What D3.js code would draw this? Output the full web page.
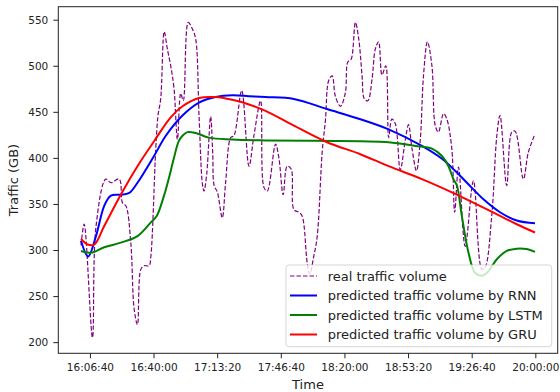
<!DOCTYPE html>
<html>
<head>
<meta charset="utf-8">
<script src="https://cdn.jsdelivr.net/npm/d3@7"></script>
<style>
body { margin: 0; background: #fff; }
svg { font-family: "DejaVu Sans", sans-serif; }
</style>
</head>
<body>
<script>
// Real traffic volume (GB)
var realTimes = ["16:02:00","16:03:40","16:08:00","16:09:50","16:15:00","16:17:40","16:22:00","16:23:45","16:25:30","16:28:05",
  "16:29:50","16:31:35","16:33:20","16:35:05","16:37:40","16:38:35","16:41:10","16:42:20","16:43:45","16:45:35",
  "16:47:15","16:49:00","16:50:45","16:52:30","16:54:15","16:55:35","16:58:10","17:00:20","17:02:05","17:03:50",
  "17:05:35","17:06:25","17:07:50","17:09:55","17:11:00","17:11:45","17:13:25","17:16:00","17:17:45","17:20:25",
  "17:22:05","17:26:10","17:30:00","17:32:35","17:36:05","17:37:50","17:39:35","17:43:55","17:45:40","17:47:55",
  "17:50:00","17:52:05","17:53:30","17:56:05","17:57:50","18:00:30","18:01:50","18:03:55","18:05:45","18:08:20",
  "18:10:05","18:11:45","18:13:35","18:15:15","18:17:55","18:20:30","18:21:45","18:23:30","18:25:45","18:27:30",
  "18:29:15","18:30:25","18:32:15","18:34:30","18:36:10","18:37:55","18:39:40","18:41:40","18:43:10","18:44:50",
  "18:46:40","18:49:15","18:51:55","18:53:35","18:55:25","18:57:45","18:59:45","19:01:25","19:03:30","19:05:50",
  "19:07:35","19:09:15","19:11:55","19:13:40","19:16:15","19:17:45","19:19:45","19:23:15","19:27:35","19:32:00",
  "19:33:40","19:37:10","19:39:50","19:41:30","19:45:00","19:47:40","19:49:25","19:53:45","19:56:20","19:59:50"];
var realValues = [305,328,205,325,377,373,377,351,348,308,
  236,219,279,283,283,293,410,446,464,537,
  518,500,475,420,470,462,547,540,529,446,
  372,364,382,445,405,370,363,335,373,422,
  424,473,391,424,462,368,364,415,400,360,
  391,388,344,341,337,286,274,293,315,406,
  442,484,489,467,456,471,504,507,547,529,
  489,464,462,486,518,526,490,500,422,442,
  437,387,420,436,410,386,420,489,526,500,
  435,428,448,442,410,341,390,304,375,279,
  281,337,424,446,370,428,429,377,406,426];

// Predicted by RNN
var rnnTimes = ["16:02:00","16:05:45","16:09:50","16:14:10","16:17:40","16:22:50","16:27:15","16:31:35","16:40:15","16:46:25",
  "16:55:10","17:03:50","17:12:30","17:21:15","17:30:00","17:38:40","17:53:30","18:10:55","18:28:20","18:43:10",
  "19:00:35","19:11:05","19:18:00","19:24:10","19:32:50","19:41:30","19:50:15","19:59:50"];
var rnnValues = [310,293,315,348,359,360,362,373,402,424,
  446,460,466,468,467,466,464,453,442,431,
  413,399,386,373,355,341,332,329];

// Predicted by LSTM
var lstmTimes = ["16:02:00","16:07:10","16:14:10","16:22:50","16:31:35","16:38:35","16:41:40","16:45:20","16:47:55","16:50:35",
  "16:53:10","16:55:10","16:57:45","17:02:05","17:09:00","17:21:15","17:38:40","18:28:20","18:43:10","18:57:05",
  "19:05:50","19:11:05","19:14:30","19:17:05","19:18:55","19:21:30","19:25:00","19:28:30","19:32:00","19:35:25",
  "19:39:50","19:45:00","19:50:15","19:55:30","19:59:50"];
var lstmValues = [299,297,303,308,315,330,337,358,377,399,
  418,424,428,427,422,420,419,418,417,413,
  410,402,391,377,370,337,297,275,272,277,
  290,299,301.5,301,298];

// Predicted by GRU
var gruTimes = ["16:02:00","16:05:30","16:09:00","16:14:10","16:22:50","16:31:35","16:40:15","16:49:00","16:55:10","17:03:50",
  "17:12:30","17:21:15","17:30:00","17:38:40","17:53:30","18:10:55","18:28:20","18:43:10","19:00:35","19:18:00",
  "19:32:50","19:41:30","19:50:15","19:59:50"];
var gruValues = [312,306,306,326,360,391,418,444,456,465,
  466,463,458,451,435,417,404,391,377,361,
  346,337,328,319];

var xTicks = ["16:06:40","16:40:00","17:13:20","17:46:40","18:20:00","18:53:20","19:26:40","20:00:00"];
var yTicks = [200, 250, 300, 350, 400, 450, 500, 550];
var legendLabels = ["real traffic volume", "predicted traffic volume by RNN",
  "predicted traffic volume by LSTM", "predicted traffic volume by GRU"];

function secs(s) {
    var p = s.split(":").map(Number);
    return p[0] * 3600 + p[1] * 60 + p[2];
}
function pad(n) { return (n < 10 ? "0" : "") + n; }
function hms(t) {
    return Math.floor(t / 3600) + ":" + pad(Math.floor(t % 3600 / 60)) + ":" + pad(t % 60);
}
function pairs(times, values) {
    return times.map(function(t, i) { return [secs(t), values[i]]; });
}

var width = 560, height = 392;
var margin = {top: 6.7, right: 2.3, bottom: 38.7, left: 58.3};

var svg = d3.select("body").append("svg").attr("width", width).attr("height", height);

var series = [
    {data: pairs(realTimes, realValues), color: "purple", width: 1.2, dash: "4.5,2"},
    {data: pairs(rnnTimes, rnnValues), color: "blue", width: 2, dash: null},
    {data: pairs(lstmTimes, lstmValues), color: "green", width: 2, dash: null},
    {data: pairs(gruTimes, gruValues), color: "red", width: 2, dash: null}
];

// matplotlib style 5% margins
var allPts = d3.merge(series.map(function(s) { return s.data; }));
var tExt = d3.extent(allPts, function(d) { return d[0]; });
var vExt = d3.extent(allPts, function(d) { return d[1]; });
var tPad = (tExt[1] - tExt[0]) * 0.05, vPad = (vExt[1] - vExt[0]) * 0.05;

var x = d3.scaleLinear().domain([tExt[0] - tPad, tExt[1] + tPad]).range([margin.left, width - margin.right]);
var y = d3.scaleLinear().domain([vExt[0] - vPad, vExt[1] + vPad]).range([height - margin.bottom, margin.top]);

// Axes
var xAxis = svg.append("g").attr("transform", "translate(0," + (height - margin.bottom) + ")")
    .call(d3.axisBottom(x).tickValues(xTicks.map(secs)).tickFormat(hms).tickSize(5).tickPadding(5.5).tickSizeOuter(0));
var yAxis = svg.append("g").attr("transform", "translate(" + margin.left + ",0)")
    .call(d3.axisLeft(y).tickValues(yTicks).tickSize(5).tickPadding(5).tickSizeOuter(0));
[xAxis, yAxis].forEach(function(g) {
    g.select(".domain").remove();
    g.selectAll("line").attr("stroke", "#222");
    g.selectAll("text").attr("fill", "#222").style("font-size", "10.5px").style("font-family", "DejaVu Sans");
});

// Lines
var line = d3.line().x(function(d) { return x(d[0]); }).y(function(d) { return y(d[1]); })
    .curve(d3.curveCatmullRom.alpha(0.5));
var plot = svg.append("g");
series.forEach(function(s) {
    plot.append("path").datum(s.data).attr("d", line)
        .attr("fill", "none").attr("stroke", s.color).attr("stroke-width", s.width)
        .attr("stroke-dasharray", s.dash);
});

// Frame
svg.append("rect").attr("x", margin.left).attr("y", margin.top)
    .attr("width", width - margin.left - margin.right).attr("height", height - margin.top - margin.bottom)
    .attr("fill", "none").attr("stroke", "#222").attr("stroke-width", 1);

// Labels
svg.append("text").text("Time").attr("x", (margin.left + width - margin.right) / 2).attr("y", 388.5)
    .attr("text-anchor", "middle").attr("fill", "#222").style("font-size", "13px");
svg.append("text").text("Traffic (GB)")
    .attr("transform", "translate(13," + (margin.top + height - margin.bottom) / 2 + ") rotate(-90)")
    .attr("text-anchor", "middle").attr("dominant-baseline", "central").attr("fill", "#222").style("font-size", "13px");

// Legend (lower right)
var lw = 265.7, lh = 81.7;
var legend = svg.append("g")
    .attr("transform", "translate(" + (width - margin.right - 6 - lw) + "," + (height - margin.bottom - 6.6 - lh) + ")");
legend.append("rect").attr("width", lw).attr("height", lh).attr("rx", 3)
    .attr("fill", "white").attr("fill-opacity", 0.8).attr("stroke", "#ccc").attr("stroke-opacity", 0.8);
legendLabels.forEach(function(lab, i) {
    var row = legend.append("g").attr("transform", "translate(0," + (11 + i * 19.5) + ")");
    row.append("line").attr("x1", 4).attr("x2", 31).attr("y1", 0).attr("y2", 0)
        .attr("stroke", series[i].color).attr("stroke-width", series[i].width)
        .attr("stroke-dasharray", series[i].dash);
    row.append("text").text(lab).attr("x", 41.7).attr("dominant-baseline", "central")
        .attr("fill", "#222").style("font-size", "13px");
});
</script>
</body>
</html>
